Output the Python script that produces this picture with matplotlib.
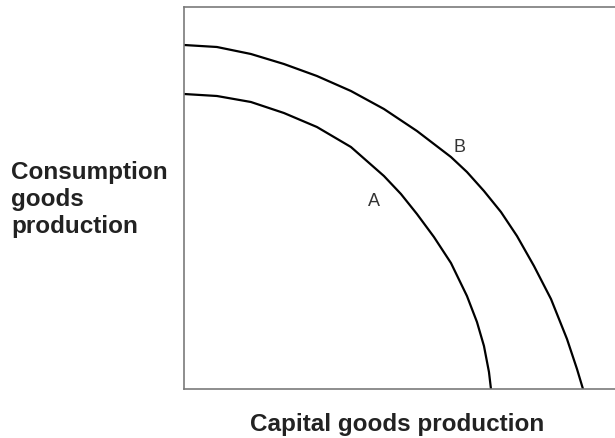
import matplotlib
matplotlib.use("Agg")
import matplotlib.pyplot as plt

plt.rcParams["font.family"] = ["Liberation Sans", "DejaVu Sans"]

# production possibility frontiers
ppf_a_x = [0, 33, 67, 100, 133, 167, 200, 217, 233, 250, 267, 283, 293, 300, 305, 307]
ppf_a_y = [295, 293, 287, 276, 262, 242, 213, 195, 175, 152, 126, 93, 67, 43, 17, 0]
ppf_b_x = [0, 33, 67, 100, 133, 167, 200, 233, 267, 283, 300, 317, 333, 350, 367, 383, 393, 399]
ppf_b_y = [344, 342, 335, 325, 313, 298, 280, 258, 232, 217, 198, 177, 153, 123, 90, 50, 20, 0]

label_a = ("A", 190, 188)
label_b = ("B", 276, 242)

fig = plt.figure(figsize=(6.15, 4.39), dpi=100)
ax = fig.add_axes([0.299, 0.1116, 0.701, 0.8702])
ax.plot(ppf_a_x, ppf_a_y, color="black", lw=1.6, solid_joinstyle="round")
ax.plot(ppf_b_x, ppf_b_y, color="black", lw=1.6, solid_joinstyle="round")
for txt, x, y in (label_a, label_b):
    ax.text(x, y, txt, fontsize=13, color="#333333", ha="center", va="center")

ax.set_xlim(0, 431); ax.set_ylim(0, 382)
ax.set_xticks([]); ax.set_yticks([])
ax.spines["right"].set_visible(False)
for s in ["top", "left", "bottom"]:
    ax.spines[s].set_color("#7a7a7a"); ax.spines[s].set_linewidth(1.2)

fig.text(0.018, 0.545, "Consumption\ngoods\nproduction", fontsize=17.5, fontweight="bold",
         color="#222222", ha="left", va="center", linespacing=1.22)
fig.text(0.645, 0.034, "Capital goods production", fontsize=17.5, fontweight="bold",
         color="#222222", ha="center", va="center")

fig.savefig("out.png", dpi=100)
